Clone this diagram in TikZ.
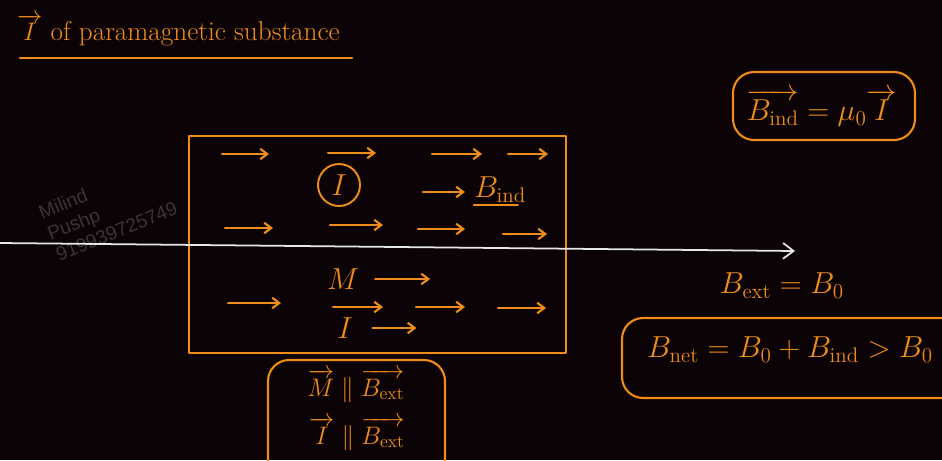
\documentclass[tikz,border=0pt]{standalone}
\usepackage{amsmath,amssymb}
\usepackage{fontspec}
\usepackage{xcolor}
\usepackage{tikz}
\usetikzlibrary{arrows.meta}
\newfontfamily\wmfont{Liberation Sans}
\definecolor{bg}{HTML}{0B0305}
\definecolor{ink}{HTML}{F08C1C}
\definecolor{chalk}{HTML}{E6E6E6}
\definecolor{wmgray}{HTML}{3A3434}
\tikzset{
  pen/.style={draw=ink, line width=1.2pt, line cap=round, line join=round},
  field/.style={pen, -{Straight Barb[length=4pt,width=6pt]}},
  extline/.style={draw=chalk, line width=1pt, -{Straight Barb[length=6pt,width=9pt]}},
  boxline/.style={pen, rounded corners=12pt},
  word/.style={text=ink, font=\LARGE, inner sep=1pt},
  stamp/.style={text=wmgray, font=\wmfont\fontsize{11}{13}\selectfont, align=left, rotate=22}
}

\begin{document}
\begin{tikzpicture}[x=0.02cm, y=-0.02cm]
  \fill[bg] (0,0) rectangle (942,460);
  \useasboundingbox (0,0) rectangle (942,460);
  \clip (0,0) rectangle (942,460);

  % title
  \node[word, font=\fontsize{15.5}{18}\selectfont, anchor=west] (title) at (15,30) {$\overrightarrow{I}$ of paramagnetic substance};
  \draw[pen] (20,58) -- (352,58);

  % watermark
  \node[stamp] (wm) at (108,210) {Milind\\Pushp\\919939725749};

  % sample with its aligned dipoles
  \draw[pen, line width=1pt] (189,136) rectangle (566,353);
  \foreach \xa/\xb/\y in {222/269/154, 328/376/153, 432/482/154, 508/548/154,
      225/273/228, 330/383/225, 418/465/229, 503/547/234,
      228/281/303, 333/383/307, 416/465/307, 498/546/308}
    \draw[field] (\xa,\y) -- (\xb,\y);

  \node[word, circle, draw=ink, line width=1.1pt, minimum size=0.84cm, inner sep=0pt] (mag) at (339,185) {$I$};
  \node[word, anchor=west] (bind) at (472,190) {$B_{\mathrm{ind}}$};
  \draw[pen] ([xshift=1pt]bind.south west) -- ([xshift=-6pt]bind.south east);
  \coordinate (bindtail) at (423,192);
  \draw[field] (bindtail) -- ([xshift=-4pt]bind.west |- bindtail);

  \node[word] (mvec) at (343,279) {$M$};
  \draw[field] ([xshift=8pt]mvec.east) -- +(55,0);
  \node[word] (ivec) at (345,328) {$I$};
  \draw[field] ([xshift=10pt]ivec.east) -- +(44,0);

  % external field
  \coordinate (lstart) at (0,243);
  \coordinate (lend) at (795,251);
  \draw[extline] (lstart) -- (lend);

  % parallel relations
  \draw[boxline] (268,360) rectangle (445,480);
  \node[word, font=\Large] (mpar) at (356,386) {$\overrightarrow{M} \parallel \overrightarrow{B_{\mathrm{ext}}}$};
  \node[word, font=\Large] (ipar) at (357,434) {$\overrightarrow{I} \parallel \overrightarrow{B_{\mathrm{ext}}}$};

  % formulas on the right
  \draw[boxline] (733,72) rectangle (915,140);
  \node[word] (bform) at (822,108) {$\overrightarrow{B_{\mathrm{ind}}} = \mu_0 \overrightarrow{I}$};

  \node[word] (bext) at (782,286) {$B_{\mathrm{ext}} = B_0$};
  \draw[boxline] (622,318) rectangle (965,398);
  \node[word] (bnet) at (790,350) {$B_{\mathrm{net}} = B_0 + B_{\mathrm{ind}} > B_0$};
\end{tikzpicture}
\end{document}
